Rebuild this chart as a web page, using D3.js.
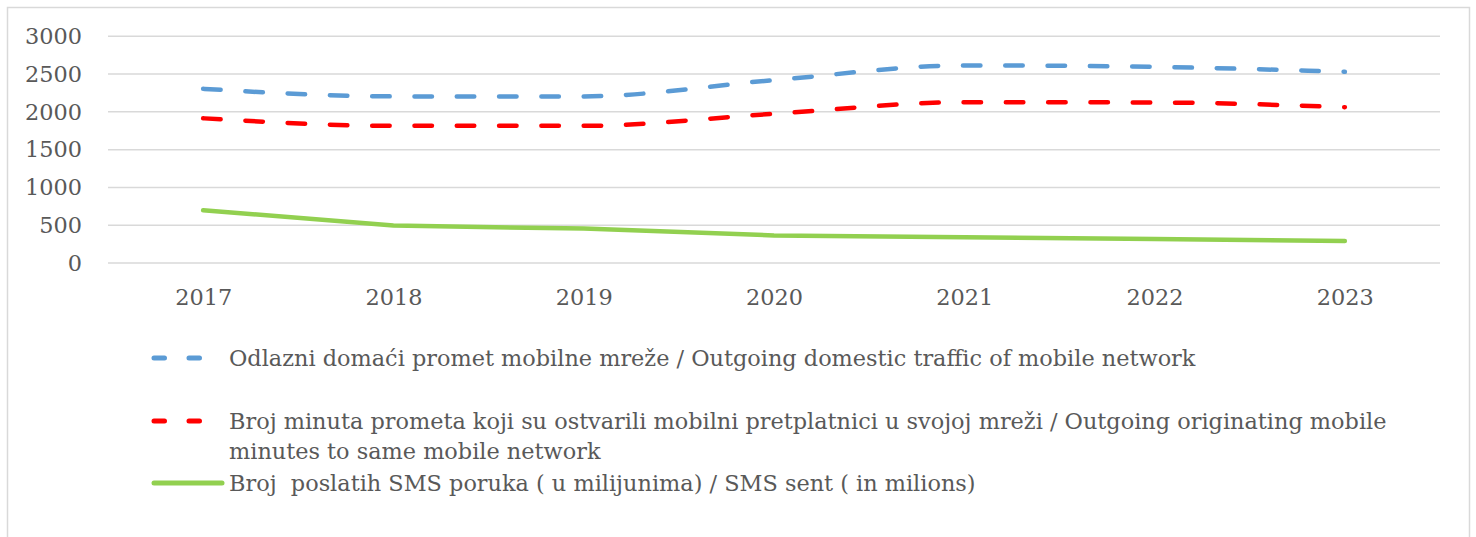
<!DOCTYPE html>
<html>
<head>
<meta charset="utf-8">
<script src="https://cdn.jsdelivr.net/npm/d3@7"></script>
<style>
  body { margin: 0; background: #fff; }
  text { font-family: "DejaVu Serif", serif; fill: #595959; white-space: pre; }
</style>
</head>
<body>
<svg id="chart" width="1476" height="537"></svg>
<script>
var years = ["2017", "2018", "2019", "2020", "2021", "2022", "2023"];
var outgoing = [2305, 2205, 2205, 2420, 2615, 2595, 2530];
var sameNetwork = [1915, 1815, 1815, 1975, 2128, 2124, 2062];
var sms = [698, 495, 455, 365, 340, 318, 291];
var yTicks = [0, 500, 1000, 1500, 2000, 2500, 3000];
var labels = [
  ["Odlazni domaći promet mobilne mreže / Outgoing domestic traffic of mobile network"],
  ["Broj minuta prometa koji su ostvarili mobilni pretplatnici u svojoj mreži / Outgoing originating mobile", "minutes to same mobile network"],
  ["Broj  poslatih SMS poruka ( u milijunima) / SMS sent ( in milions)"]
];

var series = [
  {values: outgoing, color: "#5B9BD5", dash: "17.5 24.8", smooth: true, label: labels[0]},
  {values: sameNetwork, color: "#FF0000", dash: "17.5 24.8", smooth: true, label: labels[1]},
  {values: sms, color: "#92D050", dash: null, smooth: false, label: labels[2]}
];

var svg = d3.select("#chart");
var fs = 22.4;

// outer frame
svg.append("rect").attr("x", 7.5).attr("y", 7.5).attr("width", 1462).attr("height", 560)
  .attr("fill", "none").attr("stroke", "#D9D9D9").attr("stroke-width", 1.5);

var x = d3.scalePoint().domain(years).range([108, 1440]).padding(0.5);
var y = d3.scaleLinear().domain([0, 3000]).range([263, 36.3]);

// grid
var grid = svg.append("g");
grid.selectAll("line").data(yTicks).enter().append("line")
  .attr("x1", 108).attr("x2", 1440)
  .attr("y1", d => y(d)).attr("y2", d => y(d))
  .attr("stroke", "#D9D9D9").attr("stroke-width", 1.5);

// y axis labels
var yAxis = svg.append("g").attr("transform", "translate(82,0)")
  .call(d3.axisLeft(y).tickValues(yTicks).tickFormat(d3.format("d")).tickSize(0).tickPadding(0));
yAxis.select(".domain").remove();
yAxis.selectAll("text").attr("font-size", fs).attr("font-family", "DejaVu Serif").attr("fill", "#595959");

// x axis labels
var xAxis = svg.append("g").attr("transform", "translate(0,263)")
  .call(d3.axisBottom(x).tickSize(0).tickPadding(26));
xAxis.select(".domain").remove();
xAxis.selectAll("text").attr("font-size", fs).attr("font-family", "DejaVu Serif").attr("fill", "#595959");

// lines
series.forEach(function(s) {
  var line = d3.line()
    .x((d, i) => x(years[i]))
    .y(d => y(d))
    .curve(s.smooth ? d3.curveMonotoneX : d3.curveLinear);
  svg.append("path").datum(s.values)
    .attr("d", line)
    .attr("fill", "none")
    .attr("stroke", s.color)
    .attr("stroke-width", 4.5)
    .attr("stroke-linecap", "round")
    .attr("stroke-linejoin", "round")
    .attr("stroke-dasharray", s.dash);
});

// legend
var legendRows = [358, 421, 483];
var legend = svg.append("g");
series.forEach(function(s, i) {
  var g = legend.append("g").attr("transform", "translate(0," + legendRows[i] + ")");
  g.append("line").attr("x1", 154).attr("x2", 222).attr("y1", 0).attr("y2", 0)
    .attr("stroke", s.color).attr("stroke-width", 5)
    .attr("stroke-linecap", "round")
    .attr("stroke-dasharray", s.dash ? "10.5 24.5" : null);
  s.label.forEach(function(t, j) {
    g.append("text").attr("x", 229).attr("y", 8 + j * 30)
      .attr("font-size", fs).text(t);
  });
});
</script>
</body>
</html>
